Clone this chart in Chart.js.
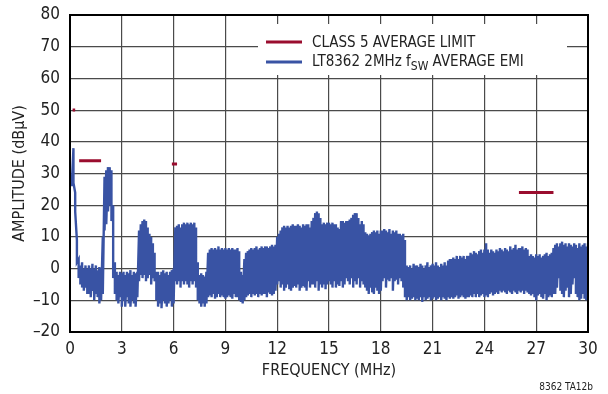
<!DOCTYPE html>
<html>
<head>
<meta charset="utf-8">
<script src="https://cdn.jsdelivr.net/npm/chart.js@4/dist/chart.umd.min.js"></script>
<style>
  html, body { margin: 0; padding: 0; background: #fff; }
  canvas { display: block; }
</style>
</head>
<body>
<canvas id="emi" width="608" height="394"></canvas>
<script>
// axis ticks
const xTicks = [0, 3, 6, 9, 12, 15, 18, 21, 24, 27, 30];
const yTicks = [80, 70, 60, 50, 40, 30, 20, 10, 0, -10, -20];

// CISPR 25 class 5 average limit bands (MHz, dBuV)
const limitStart = [0.15, 0.53, 5.9, 26];
const limitEnd   = [0.3, 1.8, 6.2, 28];
const limitLevel = [50, 34, 33, 24];

// measured EMI, one column every 0.1MHz (0.1 .. 30.0), top and bottom of the trace
const emiHigh = [
  28, 38, 24, 9, 3, 1, 2, 0, 1, 0,
  1, 0, 1.5, 0, 1, -0.5, 0.5, 0, 10, 29,
  31, 32, 32, 31, 20, 2, -1, -2, -1, -1.5,
  -1, -2, -1, -1.5, -0.5, -2, -1, -1.5, -1, 12,
  14, 15, 15.5, 15, 13, 11, 10, 8, 5, -1,
  -1, -2, -1, -0.5, -1.5, -1, -2, -1, -0.5, 0,
  13, 13.5, 14, 13, 14, 14.5, 14, 14.5, 14, 14.5,
  14, 14.5, 13, 2, -2, -1.5, -2, -2.5, -1, 5,
  6, 6.5, 6, 6.5, 6, 7, 6, 6.5, 6, 6.5,
  6, 6.5, 6, 6.5, 6, 6, 6.5, 5.5, -1, -2,
  3, 5, 5.5, 6, 6.5, 6, 6.5, 7, 6, 6.5,
  7, 6.5, 7, 7, 6.5, 7, 7.5, 7, 7.5, 10,
  11, 12, 13, 13.5, 13, 13.5, 13, 13.5, 14, 13.5,
  13.5, 14, 13.5, 13, 14, 13.5, 14, 14, 13, 15,
  16, 17.5, 18, 17.5, 16, 14, 14.5, 14, 14.5, 14.5,
  14, 14.5, 14, 14, 13, 12.5, 15, 15, 14.5, 15,
  15, 15.5, 16, 17, 17.5, 17.5, 16, 14, 15, 14,
  11.5, 11, 10.5, 11, 11.5, 12, 11.5, 12, 11, 12,
  12, 12.5, 12, 11.5, 12.5, 11, 12, 11.5, 12, 11,
  11, 10.5, 11, 9, 1, 0.5, 1, 0, 1.5, 1,
  1, 0.5, 1.5, 1, 0, 1, 2, 0.5, 1, 1.5,
  1, 2, 1, 0.5, 1.5, 1, 2, 1, 2.5, 3,
  3, 3.5, 3, 4, 3, 4, 3.5, 4, 3, 4,
  4, 5, 4.5, 5.5, 5, 4.5, 5.5, 6, 5, 6,
  8, 6, 5, 6, 5.5, 5, 6, 5.5, 6.5, 6,
  5.5, 6.5, 6, 5.5, 7, 6, 6.5, 7.5, 6, 6.5,
  6.5, 7, 6, 6.5, 6, 4, 4.5, 4, 3.5, 4.5,
  4, 4.5, 3.5, 4, 4.5, 5, 4, 4.5, 5, 6.5,
  7.5, 8, 7, 8, 8.5, 7.5, 8, 7, 8, 7.5,
  7, 8, 7.5, 6.5, 8, 7, 7.5, 8, 7, 8
];
const emiLow = [
  26, 27, 18, 2, -3, -5, -6, -7, -6, -8,
  -8, -9, -7, -10, -8, -9, -11, -10, -8, 12,
  14, 18, 20, 15, -3, -8, -10, -11, -9, -12,
  -10, -12, -9, -11, -12, -10, -11, -12, -9, -4,
  -2, -3, -2, -4, -3, -2, -5, -3, -4, -10,
  -12, -11, -12.5, -10, -11, -12, -11, -10, -12, -11,
  -4, -5, -4, -6, -4, -5, -4, -5, -6, -4,
  -5, -4, -6, -10, -11, -12, -11, -12, -11, -9,
  -8.5, -9, -8, -9.5, -9, -8, -9, -8.5, -9, -9.5,
  -9, -8.5, -9, -9.5, -8, -9, -9, -10, -10.5, -11,
  -10, -9, -8.5, -8, -9, -8, -8.5, -8, -9, -8,
  -8.5, -8, -8, -9, -7.5, -8, -8.5, -8, -7, -5,
  -4, -6, -5, -7, -6, -5, -6.5, -7, -6, -5.5,
  -6, -5, -7, -6, -5.5, -6, -7, -4, -6, -5,
  -5, -6, -4, -7, -5, -6, -5, -6.5, -5, -4,
  -5, -6, -4, -6, -5, -5.5, -4, -6, -5, -3,
  -4, -5, -3, -6, -4, -5, -3, -6, -4, -5,
  -6, -7, -8, -6, -7.5, -8, -6, -7, -8, -7,
  -4, -3, -6, -3.5, -4, -3, -7, -4, -3.5, -5,
  -3, -4, -6, -9, -10, -9, -10, -9.5, -9, -10,
  -9.5, -10, -9, -10.5, -9, -10, -9.5, -9, -10, -9.5,
  -9, -10, -9.5, -9, -10, -9, -9.5, -10, -9, -9.5,
  -9, -9.5, -9, -8.5, -9.5, -9, -8.5, -9, -9.5, -9,
  -9, -8.5, -9, -8, -9, -8, -9, -8.5, -8, -9,
  -8.5, -9, -8, -7.5, -8.5, -8, -7.5, -8, -7, -7.5,
  -7, -7.5, -8, -7, -7.5, -8, -7, -7.5, -8, -7,
  -7.5, -7, -8, -7, -7.5, -8, -8.5, -8, -9, -10,
  -8.5, -8, -9, -9.5, -8, -10, -9, -8.5, -9, -8,
  -8, -6, -3, -7, -8, -9, -7, -6, -9, -8,
  -5, -3, -8, -9, -10, -9.5, -8, -9.5, -10, -9
];

const RED = '#9a0d2e';
const BLUE = '#3953a4';
const FONT = "'Liberation Sans Narrow', 'DejaVu Sans Condensed', 'Liberation Sans', sans-serif";

// zigzag top/bottom per column so the trace reads as a dense band
let emiPoints = [];
emiHigh.forEach((hi, i) => {
  let f = (i + 1) / 10;
  emiPoints.push({x: f, y: hi});
  emiPoints.push({x: f, y: emiLow[i]});
});

let limitPoints = [];
limitStart.forEach((s, i) => {
  limitPoints.push({x: s, y: limitLevel[i]});
  limitPoints.push({x: limitEnd[i], y: limitLevel[i]});
  limitPoints.push({x: limitEnd[i], y: null});
});

const decor = {
  id: 'decor',
  afterDraw(chart) {
    let ctx = chart.ctx;
    let a = chart.chartArea;
    ctx.save();

    // frame
    ctx.strokeStyle = '#000';
    ctx.lineWidth = 2;
    ctx.strokeRect(a.left, a.top, a.right - a.left, a.bottom - a.top);

    // legend box
    ctx.fillStyle = '#fff';
    ctx.fillRect(258, 24, 309, 51);
    ctx.lineWidth = 3;
    ctx.strokeStyle = RED;
    ctx.beginPath(); ctx.moveTo(266, 42); ctx.lineTo(302, 42); ctx.stroke();
    ctx.strokeStyle = BLUE;
    ctx.beginPath(); ctx.moveTo(266, 62); ctx.lineTo(302, 62); ctx.stroke();

    ctx.fillStyle = '#222';
    ctx.textBaseline = 'middle';
    ctx.textAlign = 'left';
    ctx.font = '15px ' + FONT;
    ctx.fillText('CLASS 5 AVERAGE LIMIT', 312, 43);
    let x = 312;
    ctx.fillText('LT8362 2MHz f', x, 62);
    x += ctx.measureText('LT8362 2MHz f').width;
    ctx.font = '12px ' + FONT;
    ctx.fillText('SW', x, 67);
    x += ctx.measureText('SW').width;
    ctx.font = '15px ' + FONT;
    ctx.fillText(' AVERAGE EMI', x, 62);

    // axis titles
    ctx.font = '16px ' + FONT;
    ctx.textAlign = 'center';
    ctx.fillText('FREQUENCY (MHz)', (a.left + a.right) / 2, 371);
    ctx.save();
    ctx.translate(20, (a.top + a.bottom) / 2);
    ctx.rotate(-Math.PI / 2);
    ctx.fillText('AMPLITUDE (dB\u03bcV)', 0, 0);
    ctx.restore();

    ctx.font = '10px ' + FONT;
    ctx.textAlign = 'right';
    ctx.fillText('8362 TA12b', 593, 387);
    ctx.restore();
  }
};

new Chart(document.getElementById('emi'), {
  type: 'line',
  data: {
    datasets: [
      {
        label: 'CLASS 5 AVERAGE LIMIT',
        data: limitPoints,
        borderColor: RED,
        borderWidth: 3,
        pointRadius: 0,
        spanGaps: false,
        borderCapStyle: 'butt'
      },
      {
        label: 'LT8362 2MHz fSW AVERAGE EMI',
        data: emiPoints,
        borderColor: BLUE,
        borderWidth: 2.4,
        pointRadius: 0,
        tension: 0
      }
    ]
  },
  options: {
    responsive: false,
    animation: false,
    layout: { padding: { left: 0, right: 20, top: 15, bottom: 0 } },
    plugins: {
      legend: { display: false },
      tooltip: { enabled: false }
    },
    scales: {
      x: {
        type: 'linear',
        min: xTicks[0],
        max: xTicks[xTicks.length - 1],
        afterFit: (scale) => {
          scale.height = 62;
          scale.paddingLeft = 0;
          scale.paddingRight = 0;
        },
        afterBuildTicks: (scale) => { scale.ticks = xTicks.map(v => ({value: v})); },
        ticks: {
          padding: 7,
          color: '#222',
          font: { family: FONT, size: 17 },
          callback: (v) => String(v)
        },
        grid: { color: '#4a4a4a', lineWidth: 1.2, drawTicks: false },
        border: { display: true, color: '#000', width: 2 }
      },
      y: {
        min: yTicks[yTicks.length - 1],
        max: yTicks[0],
        afterFit: (scale) => {
          scale.width = 70;
          scale.paddingTop = 0;
          scale.paddingBottom = 0;
        },
        afterBuildTicks: (scale) => { scale.ticks = yTicks.map(v => ({value: v})); },
        ticks: {
          padding: 10,
          color: '#222',
          font: { family: FONT, size: 17 },
          callback: (v) => String(v).replace('-', '\u2013')
        },
        grid: { color: '#4a4a4a', lineWidth: 1.2, drawTicks: false },
        border: { display: true, color: '#000', width: 2 }
      }
    }
  },
  plugins: [decor]
});
</script>
</body>
</html>
